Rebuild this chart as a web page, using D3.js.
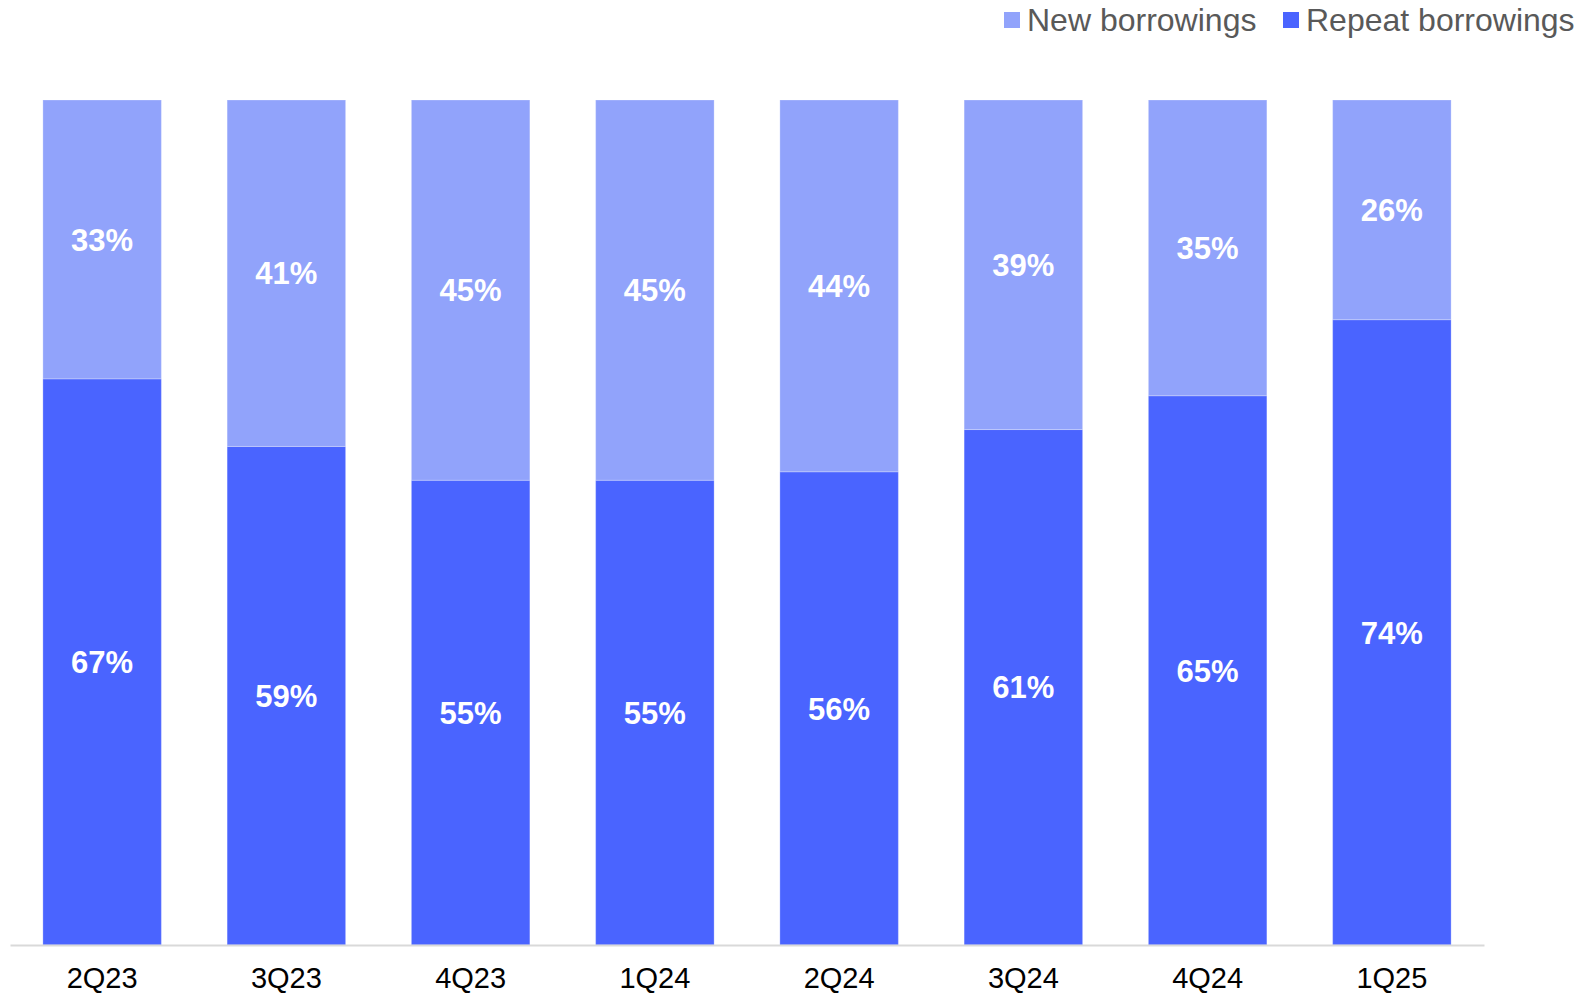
<!DOCTYPE html>
<html>
<head>
<meta charset="utf-8">
<script src="https://cdn.jsdelivr.net/npm/d3@7"></script>
<style>
  body { margin: 0; background: #fff; }
  svg text { font-family: "Liberation Sans", Arial, sans-serif; }
</style>
</head>
<body>
<div id="visualization"></div>
<script>
// Chart data
const quarters = ["2Q23", "3Q23", "4Q23", "1Q24", "2Q24", "3Q24", "4Q24", "1Q25"];
const repeatShare = [67, 59, 55, 55, 56, 61, 65, 74];
const newShare = [33, 41, 45, 45, 44, 39, 35, 26];
const seriesNames = ["Repeat borrowings", "New borrowings"];
const legendNames = ["New borrowings", "Repeat borrowings"];

const colors = { "New borrowings": "#91A3FB", "Repeat borrowings": "#4A64FF" };

const W = 1575, H = 993;
const margin = { top: 100, right: 91, bottom: 48, left: 10 };
const width = W - margin.left - margin.right;
const height = H - margin.top - margin.bottom;

const svg = d3.select("#visualization")
  .append("svg")
  .attr("width", W)
  .attr("height", H);

const g = svg.append("g")
  .attr("transform", `translate(${margin.left},${margin.top})`);

// Build table for stacking
const table = quarters.map((q, i) => ({
  quarter: q,
  "Repeat borrowings": repeatShare[i],
  "New borrowings": newShare[i]
}));

const stacked = d3.stack().keys(seriesNames)(table);

const x = d3.scaleBand()
  .domain(quarters)
  .range([0, width])
  .paddingInner(0.357)
  .paddingOuter(0.1785);

const y = d3.scaleLinear()
  .domain([0, 100])
  .range([height, 0]);

// Bars
const layers = g.selectAll(".layer")
  .data(stacked)
  .enter()
  .append("g")
  .attr("class", "layer")
  .attr("fill", d => colors[d.key]);

layers.selectAll("rect")
  .data(d => d)
  .enter()
  .append("rect")
  .attr("x", d => x(d.data.quarter))
  .attr("y", d => y(d[1]))
  .attr("width", x.bandwidth())
  .attr("height", d => y(d[0]) - y(d[1]))
  .attr("stroke", "rgba(255,255,255,0.25)")
  .attr("stroke-width", 1);

// Value labels
layers.selectAll("text")
  .data(d => d)
  .enter()
  .append("text")
  .attr("x", d => x(d.data.quarter) + x.bandwidth() / 2)
  .attr("y", d => (y(d[0]) + y(d[1])) / 2)
  .attr("dy", "0.36em")
  .attr("text-anchor", "middle")
  .attr("fill", "#fff")
  .style("font-size", "31px")
  .style("font-weight", "bold")
  .text(d => (d[1] - d[0]) + "%");

// X axis
const xAxis = g.append("g")
  .attr("transform", `translate(0,${height})`)
  .call(d3.axisBottom(x).tickSize(0).tickPadding(22));

xAxis.select(".domain")
  .attr("stroke", "#D9D9D9")
  .attr("stroke-width", 2);

xAxis.selectAll("text")
  .style("font-size", "29px")
  .attr("fill", "#000");

// Legend
const legend = svg.append("g").attr("class", "legend");
const legendX = [1004, 1283];
legendNames.forEach((name, i) => {
  const item = legend.append("g")
    .attr("transform", `translate(${legendX[i]},0)`);
  item.append("rect")
    .attr("x", 0)
    .attr("y", 12)
    .attr("width", 16)
    .attr("height", 16)
    .attr("fill", colors[name]);
  item.append("text")
    .attr("x", 23)
    .attr("y", 31)
    .attr("fill", "#595959")
    .style("font-size", "32px")
    .text(name);
});
</script>
</body>
</html>
